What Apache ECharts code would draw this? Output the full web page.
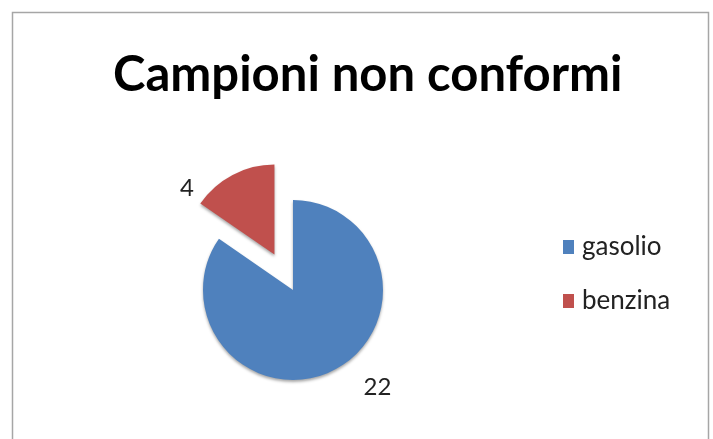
<!DOCTYPE html>
<html><head><meta charset="utf-8">
<script src="https://cdn.jsdelivr.net/npm/echarts@6/dist/echarts.min.js"></script>
<style>html,body{margin:0;padding:0;background:#fff}#c{width:713px;height:439px}</style>
</head><body><div id="c"></div>
<script>
const titleText = "Campioni non conformi";
const categories = ["gasolio", "benzina"];
const values = [22, 4];
const colors = ["#4F81BD", "#C0504D"];
const labelShift = [[20, 10], [-30, 20]];

const chart = echarts.init(document.getElementById('c'));
chart.setOption({
  backgroundColor: '#fff',
  animation: false,
  graphic: [{type:'rect', shape:{x:12.5,y:12.5,width:696,height:460}, style:{fill:'none', stroke:'#a6a6a6', lineWidth:1.5}}],
  title: {text: titleText, left: 108, top: 46, textStyle:{fontFamily:'Lato', fontWeight:'bold', fontSize:49, color:'#000'}},
  legend: {orient:'vertical', left: 558, top: 229, itemWidth: 11, itemHeight: 14, itemGap: 28,
    icon:'rect', textStyle:{fontFamily:'Lato', fontSize:26, color:'#222', padding:[0,0,0,3]}, data: categories},
  series: [{
    type:'pie', center:[293, 290], radius: 90, startAngle: 90, clockwise: true,
    selectedMode: 'multiple', selectedOffset: 40,
    label: {show:true, position:'outside', formatter:'{c}', fontFamily:'Lato', fontSize:24, color:'#222'},
    labelLine: {show:false, length: 8, length2: 0},
    labelLayout: function (p) { const s = labelShift[p.dataIndex]; return {dx: s[0], dy: s[1]}; },
    itemStyle: {shadowBlur: 3, shadowColor:'rgba(0,0,0,0.35)', shadowOffsetY: 2},
    data: categories.map((n,i)=>({name:n, value:values[i], selected: i===1, itemStyle:{color:colors[i]}}))
  }]
});
</script></body></html>
